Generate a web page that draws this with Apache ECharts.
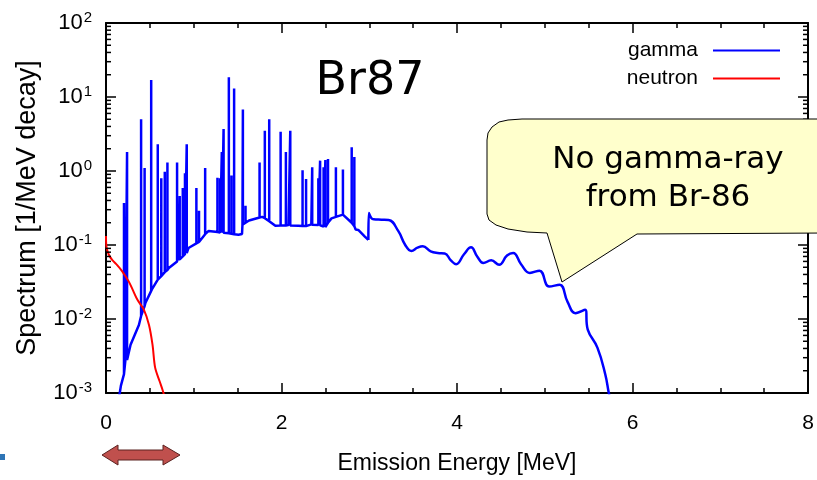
<!DOCTYPE html>
<html>
<head>
<meta charset="utf-8">
<style>
  html, body { margin: 0; padding: 0; background: #ffffff; }
  #chart { width: 817px; height: 480px; }
</style>
<script src="https://cdn.jsdelivr.net/npm/echarts@6/dist/echarts.min.js"></script>
</head>
<body>
<div id="chart"></div>
<script>
// Br87 decay: gamma continuum below 3 MeV [energy MeV, spectrum 1/MeV decay]
var gammaContinuumLow = [
  [0.15, 0.00089], [0.17, 0.00126], [0.22, 0.0027], [0.28, 0.0045],
  [0.375, 0.0083], [0.405, 0.0115], [0.45, 0.0166], [0.53, 0.026],
  [0.60, 0.035], [0.716, 0.049], [0.83, 0.063], [0.94, 0.091],
  [1.065, 0.112], [1.17, 0.155], [1.36, 0.145], [1.51, 0.138],
  [1.55, 0.141], [1.555, 0.186], [1.63, 0.214], [1.78, 0.24],
  [1.93, 0.182], [2.08, 0.186], [2.19, 0.182], [2.34, 0.19],
  [2.505, 0.174], [2.57, 0.229], [2.70, 0.257], [2.845, 0.162],
  [2.875, 0.16], [2.95, 0.13], [2.99, 0.117]
];

// gamma continuum from 3 MeV up to the end point
var gammaContinuumHigh = [
  [2.99, 0.117], [2.995, 0.27], [3.02, 0.235], [3.05, 0.222],
  [3.14, 0.22], [3.22, 0.218], [3.33, 0.155], [3.41, 0.1],
  [3.48, 0.083], [3.55, 0.092], [3.61, 0.096], [3.70, 0.082],
  [3.78, 0.078], [3.86, 0.077], [3.93, 0.062], [3.99, 0.055],
  [4.08, 0.075], [4.16, 0.093], [4.23, 0.07], [4.30, 0.057],
  [4.39, 0.062], [4.48, 0.054], [4.57, 0.072], [4.64, 0.078],
  [4.73, 0.055], [4.83, 0.042], [4.94, 0.045], [5.05, 0.0275],
  [5.17, 0.029], [5.26, 0.017], [5.35, 0.012], [5.46, 0.0133],
  [5.49, 0.0072], [5.60, 0.0041], [5.69, 0.00178], [5.73, 0.001],
  [5.75, 0.00079]
];

// Discrete gamma lines [energy MeV, foot value, peak value]
var gammaLines = [
  [0.205, 0.0018, 0.37], [0.24, 0.0028, 1.8], [0.40, 0.011, 5.0],
  [0.44, 0.015, 1.1], [0.515, 0.024, 17], [0.59, 0.034, 2.3],
  [0.63, 0.038, 0.8], [0.67, 0.043, 0.98], [0.70, 0.046, 1.3],
  [0.81, 0.06, 1.3], [0.83, 0.062, 0.29], [0.84, 0.064, 0.46],
  [0.875, 0.07, 0.59], [0.90, 0.075, 0.93], [0.92, 0.078, 2.3],
  [1.03, 0.105, 0.59], [1.06, 0.11, 0.29], [1.13, 0.14, 1.1],
  [1.27, 0.15, 0.81], [1.30, 0.148, 0.8], [1.32, 0.147, 1.8],
  [1.34, 0.146, 3.7], [1.40, 0.144, 18.5], [1.43, 0.142, 0.87],
  [1.46, 0.14, 13], [1.56, 0.19, 6.8], [1.59, 0.2, 0.34],
  [1.75, 0.235, 1.3], [1.81, 0.23, 3.5], [1.86, 0.21, 5.0],
  [1.99, 0.183, 3.4], [2.05, 0.184, 1.8], [2.10, 0.184, 3.5],
  [2.24, 0.18, 1.02], [2.28, 0.18, 0.78], [2.35, 0.188, 1.12],
  [2.42, 0.186, 0.8], [2.44, 0.185, 1.38], [2.48, 0.178, 1.12],
  [2.50, 0.175, 1.41], [2.53, 0.2, 1.45], [2.62, 0.24, 1.12],
  [2.70, 0.257, 1.05], [2.80, 0.2, 2.1], [2.83, 0.18, 1.55]
];

// Delayed neutron spectrum [energy MeV, spectrum 1/MeV decay]
var neutronSpectrum = [
  [0.0, 0.132], [0.005, 0.095], [0.03, 0.075], [0.07, 0.063],
  [0.13, 0.053], [0.185, 0.044], [0.26, 0.032], [0.31, 0.024],
  [0.36, 0.018], [0.43, 0.0135], [0.49, 0.0083], [0.53, 0.0045],
  [0.56, 0.0022], [0.61, 0.00145], [0.65, 0.00105], [0.67, 0.00085]
];

// Axis ticks
var xTickValues = [0, 2, 4, 6, 8];
var yDecadeExponents = [-3, -2, -1, 0, 1, 2];
var yMinorMultipliers = [2, 3, 4, 5, 6, 7, 8, 9];

var legendNames = ['gamma', 'neutron'];
var titleText = 'Br87';
var calloutLines = ['No gamma-ray', 'from Br-86'];

// merge the low-energy continuum with line shapes (foot, peak, foot), ordered by energy
var gammaPoints = gammaContinuumLow.map(function (p) { return { e: p[0], k: 0, v: p[1] }; });
gammaLines.forEach(function (l) {
  gammaPoints.push({ e: l[0], k: 0, v: l[1] });
  gammaPoints.push({ e: l[0], k: 1, v: l[2] });
  gammaPoints.push({ e: l[0], k: 2, v: l[1] });
});
gammaPoints.sort(function (a, b) { return a.e - b.e || a.k - b.k; });
var gammaLowData = gammaPoints.map(function (p) { return [p.e, p.v]; });

var minorTickData = [];
yDecadeExponents.slice(0, -1).forEach(function (ex) {
  yMinorMultipliers.forEach(function (m) { minorTickData.push([0, m * Math.pow(10, ex)]); });
});

var tickFont = 'Liberation Sans, Arial, sans-serif';
var textFont = 'DejaVu Sans, sans-serif';
var gammaColor = '#0000ff';
var neutronColor = '#ff0000';

var chart = echarts.init(document.getElementById('chart'), null, { renderer: 'canvas' });

function expLabel(v) {
  var ex = Math.round(Math.log10(v));
  return '10{s|' + ex + '}';
}

var axisLine = { show: true, onZero: false, lineStyle: { color: '#000', width: 2 } };
var majorTick = { show: true, inside: true, length: 10, lineStyle: { color: '#000', width: 1.5 } };
var minorTick = { show: true, splitNumber: 4, length: 5, lineStyle: { color: '#000', width: 1.5 } };
var yMin = Math.pow(10, yDecadeExponents[0]);
var yMax = Math.pow(10, yDecadeExponents[yDecadeExponents.length - 1]);

chart.setOption({
  animation: false,
  backgroundColor: '#ffffff',
  grid: { left: 106, right: 9, top: 23, bottom: 85, containLabel: false },
  legend: {
    data: legendNames,
    orient: 'vertical',
    right: 37,
    top: 40,
    padding: 0,
    align: 'right',
    icon: 'rect',
    itemWidth: 67,
    itemHeight: 2,
    itemGap: 7,
    textStyle: { fontFamily: tickFont, fontSize: 21, color: '#000', padding: [0, 10, 0, 0] }
  },
  xAxis: [{
    type: 'value', min: 0, max: 8, interval: 2, position: 'bottom',
    name: 'Emission Energy [MeV]', nameLocation: 'middle', nameGap: 59,
    nameTextStyle: { fontFamily: tickFont, fontSize: 23, color: '#000' },
    axisLine: axisLine, axisTick: majorTick, minorTick: minorTick,
    axisLabel: {
      fontFamily: tickFont, fontSize: 21, color: '#000', margin: 20,
      formatter: function (v) { return xTickValues.indexOf(v) >= 0 ? String(v) : ''; }
    },
    splitLine: { show: false }
  }, {
    type: 'value', min: 0, max: 8, interval: 2, position: 'top',
    axisLine: axisLine, axisTick: majorTick, minorTick: minorTick,
    axisLabel: { show: false },
    splitLine: { show: false }
  }],
  yAxis: [{
    type: 'log', logBase: 10, min: yMin, max: yMax, position: 'left',
    name: 'Spectrum [1/MeV decay]', nameLocation: 'middle', nameGap: 65, nameRotate: 90,
    nameTextStyle: { fontFamily: tickFont, fontSize: 27, color: '#000' },
    axisLine: axisLine, axisTick: majorTick,
    axisLabel: {
      fontFamily: tickFont, fontSize: 22, color: '#000', margin: 14,
      formatter: expLabel,
      rich: { s: { fontFamily: tickFont, fontSize: 15, color: '#000', verticalAlign: 'top', padding: [0, 0, 10, 1] } }
    },
    splitLine: { show: false }
  }, {
    type: 'log', logBase: 10, min: yMin, max: yMax, position: 'right',
    axisLine: axisLine, axisTick: majorTick,
    axisLabel: { show: false },
    splitLine: { show: false }
  }],
  series: [{
    name: 'gamma', type: 'line', xAxisIndex: 0, yAxisIndex: 0,
    data: gammaLowData, symbol: 'none', showSymbol: false, clip: true,
    lineStyle: { color: gammaColor, width: 2.5 }, itemStyle: { color: gammaColor }, z: 3
  }, {
    name: 'gamma', type: 'line', xAxisIndex: 0, yAxisIndex: 0,
    data: gammaContinuumHigh, symbol: 'none', showSymbol: false, clip: true,
    smooth: 0.45,
    lineStyle: { color: gammaColor, width: 2.5 }, itemStyle: { color: gammaColor }, z: 3
  }, {
    name: 'neutron', type: 'line', xAxisIndex: 0, yAxisIndex: 0,
    data: neutronSpectrum, symbol: 'none', showSymbol: false, clip: true, smooth: 0.3,
    lineStyle: { color: neutronColor, width: 2 }, itemStyle: { color: neutronColor }, z: 4
  }, {
    // minor ticks of the logarithmic axis, on both vertical edges
    name: 'yMinorTicks', type: 'custom', xAxisIndex: 0, yAxisIndex: 0,
    data: minorTickData, silent: true, clip: false, z: 5,
    renderItem: function (params, api) {
      var left = api.coord([0, api.value(1)]);
      var right = api.coord([8, api.value(1)]);
      var st = { stroke: '#000', lineWidth: 1.5 };
      return {
        type: 'group',
        children: [
          { type: 'line', shape: { x1: left[0], y1: left[1], x2: left[0] + 5, y2: left[1] }, style: st },
          { type: 'line', shape: { x1: right[0], y1: right[1], x2: right[0] - 5, y2: right[1] }, style: st }
        ]
      };
    }
  }],
  graphic: [{
    type: 'text', z: 20,
    style: { x: 370, y: 82, text: titleText, fontFamily: textFont, fontSize: 46, fill: '#000', align: 'center', verticalAlign: 'middle' }
  }, {
    // speech-bubble note
    type: 'polygon', z: 30,
    shape: {
      points: [[487, 140], [488, 133], [492, 127], [499, 122], [508, 120], [522, 119],
               [830, 119], [830, 233], [637, 234], [562, 282], [547, 233],
               [527, 232], [508, 229], [496, 225], [489, 220], [487, 214]]
    },
    style: { fill: '#ffffcc', stroke: '#000', lineWidth: 1 }
  }, {
    type: 'text', z: 31,
    style: { x: 668, y: 160, text: calloutLines[0], fontFamily: textFont, fontSize: 31, fill: '#000', align: 'center', verticalAlign: 'middle' }
  }, {
    type: 'text', z: 31,
    style: { x: 668, y: 198, text: calloutLines[1], fontFamily: textFont, fontSize: 31, fill: '#000', align: 'center', verticalAlign: 'middle' }
  }, {
    type: 'polygon', z: 30,
    shape: { points: [[102, 455], [118, 445], [118, 450], [163, 450], [163, 445], [180, 455], [163, 465], [163, 460], [118, 460], [118, 465]] },
    style: { fill: '#c0504d', stroke: '#5a2220', lineWidth: 1 }
  }, {
    type: 'rect', z: 30,
    shape: { x: 0, y: 454, width: 5, height: 6 },
    style: { fill: '#2e75b6' }
  }]
});
</script>
</body>
</html>
